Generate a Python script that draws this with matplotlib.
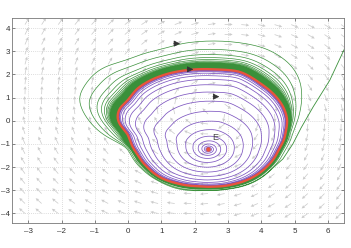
import numpy as np
import matplotlib
matplotlib.use("Agg")
import matplotlib.pyplot as plt

# ---------------- data ----------------
E = (2.41, -1.23)                 # equilibrium
E_label = "E"
E_label_pos = (2.62, -0.72)

# limit cycle (clockwise from top)
cycle_x = [2.06, 2.66, 3.36, 3.96, 4.36, 4.66, 4.78, 4.74, 4.51, 4.16, 3.66, 3.16,
           2.56, 2.07, 1.47, 0.97, 0.57, 0.27, 0.07, 0.00, -0.12, -0.28, -0.33,
           -0.27, -0.15, -0.03, 0.05, 0.27, 0.67, 1.26]
cycle_y = [2.22, 2.21, 2.13, 1.62, 1.17, 0.60, 0.05, -0.41, -1.27, -1.99, -2.50, -2.74,
           -2.84, -2.82, -2.70, -2.45, -1.99, -1.42, -0.91, -0.55, -0.38, -0.12, 0.20,
           0.50, 0.72, 0.82, 0.98, 1.39, 1.75, 2.06]

# outermost loop of the green trajectory
outer_x = [1.47, 2.37, 3.36, 4.16, 4.86, 5.16, 5.21, 5.14, 4.96, 4.70, 4.30, 3.70,
           3.00, 2.30, 1.47, 0.97, 0.46, 0.02, -0.13, -0.53, -1.00, -1.43, -1.51,
           -1.33, -1.03, -0.63, -0.13, 0.07, 0.46, 1.17]
outer_y = [3.30, 3.44, 3.37, 3.12, 2.47, 1.75, 1.03, 0.31, -0.41, -1.30, -2.10, -2.70,
           -2.95, -3.00, -2.93, -2.64, -2.14, -1.27, -0.98, -0.81, -0.30, 0.60, 1.03,
           1.46, 2.04, 2.40, 2.54, 2.68, 2.90, 3.12]

# entry part of the green trajectory (from the right border)
entry_x = [6.50, 6.06, 5.56, 5.20, 4.95, 4.65, 4.30]
entry_y = [3.10, 1.75, 0.60, -0.30, -1.00, -1.65, -2.10]

# direction arrows on the trajectories
arrow_x = [1.42, 1.82, 2.60]
arrow_y = [3.33, 2.22, 1.04]

# direction-field coefficients read from the grey arrows (linear fit)
field_a = [0.111, 1.0, -0.667]     # x' = a0*x + a1*y + a2
field_b = [-1.25, 0.156, 3.12]     # y' = b0*x + b1*y + b2

xticks = [-3, -2, -1, 0, 1, 2, 3, 4, 5, 6]
yticks = [-4, -3, -2, -1, 0, 1, 2, 3, 4]

GREEN = "#3a903a"
PURPLE = "#7d55c0"
RED = "#e8543c"
GREY = "#cccccc"

# ---------------- helpers ----------------
NG = 2880
TH = np.linspace(-np.pi, np.pi, NG, endpoint=False)

def polar_curve(xs, ys, sigma_deg):
    dx = np.asarray(xs) - E[0]
    dy = np.asarray(ys) - E[1]
    th = np.arctan2(dy, dx)
    r = np.hypot(dx, dy)
    o = np.argsort(th)
    rr = np.interp(TH, th[o], r[o], period=2 * np.pi)
    # circular gaussian smoothing of the polygon
    k = np.arange(-NG // 2, NG // 2)
    sig = sigma_deg / 360 * NG
    g = np.exp(-0.5 * (k / sig) ** 2)
    g /= g.sum()
    rr = np.real(np.fft.ifft(np.fft.fft(rr) * np.fft.fft(np.fft.ifftshift(g))))
    return rr

RC = polar_curve(cycle_x, cycle_y, 2.5)
RO = polar_curve(outer_x, outer_y, 3.5)

def wrap(th):
    return np.mod(th + np.pi, 2 * np.pi) - np.pi

def rc(th):
    return np.interp(wrap(th), TH, RC, period=2 * np.pi)

def ro(th):
    return np.interp(wrap(th), TH, RO, period=2 * np.pi)

def xy(th, r):
    return E[0] + r * np.cos(th), E[1] + r * np.sin(th)

# ---------------- figure ----------------
plt.rcParams["font.family"] = ["Liberation Sans", "DejaVu Sans"]
fig = plt.figure(figsize=(3.51, 2.48), dpi=100)
ax = fig.add_axes([0.0333, 0.102, 0.948, 0.824])
ax.set_xlim(-3.5, 6.5)
ax.set_ylim(-4.4, 4.42)

# direction field
gx = np.arange(-3.1, 6.45, 0.5)
gy = np.linspace(-4.0, 4.15, 20)
GX, GY = np.meshgrid(gx, gy)
U = field_a[0] * GX + field_a[1] * GY + field_a[2]
V = field_b[0] * GX + field_b[1] * GY + field_b[2]
sx, sy = 33.4, 23.2   # px per data unit
L = np.hypot(U * sx, V * sy)
Lpx = 8.0
U2 = U * Lpx / L
V2 = V * Lpx / L
ax.quiver(GX, GY, U2, V2, angles="xy", scale_units="xy", scale=1,
          color=GREY, width=0.0022, headwidth=4.5, headlength=4.5,
          headaxislength=4, zorder=1)

# green trajectory
th_start = np.arctan2(entry_y[-1] - E[1], entry_x[-1] - E[0])
phi = np.linspace(0, 60, 60 * 240)
th = th_start - 2 * np.pi * phi
w = 1.0 / (1.0 + np.clip(phi - 0.85, 0, None) / 2.0)
r = rc(th) + w * (ro(th) - rc(th))
gxs, gys = xy(th, r)
ax.plot(entry_x, entry_y, color=GREEN, lw=0.6, zorder=2)
ax.plot(gxs, gys, color=GREEN, lw=0.5, zorder=2)

# purple trajectory from E
phi_p = np.linspace(0, 24, 24 * 240)
u = -5.8 + 0.5 * phi_p
s = 1.0 / (1.0 + np.exp(-u))
thp = np.pi / 2 - 2 * np.pi * phi_p
b = s
shape = (1 - b) * 2.4 + b * rc(thp)
pxs, pys = xy(thp, s * shape)
ax.plot(pxs, pys, color=PURPLE, lw=0.55, zorder=3)

# limit cycle
tt = np.append(TH, TH[0])
lx, ly = xy(tt, rc(tt))
ax.plot(lx, ly, color=RED, lw=1.7, zorder=4, solid_capstyle="round")

# equilibrium
ax.plot([E[0]], [E[1]], "o", color=RED, ms=3.2, mec="none", zorder=5)
ax.text(E_label_pos[0], E_label_pos[1], E_label, fontsize=6.5, color="#444444",
        ha="center", va="center", zorder=6)

# arrows on trajectories
for xa, ya in zip(arrow_x, arrow_y):
    ax.annotate("", xy=(xa + 0.14, ya), xytext=(xa - 0.05, ya),
                arrowprops=dict(arrowstyle="-|>", color="#333333", lw=0.6,
                                mutation_scale=9, shrinkA=0, shrinkB=0),
                zorder=6)

# axes styling
ax.set_xticks(xticks)
ax.set_yticks(yticks)
ax.set_xticklabels([str(t).replace("-", "\u2013") for t in xticks])
ax.set_yticklabels([str(t).replace("-", "\u2013") for t in yticks])
ax.tick_params(direction="in", length=2.5, width=0.5, labelsize=5.8,
               colors="#555555", labelcolor="#333333", pad=1.2,
               top=True, right=True)
ax.tick_params(axis="x", pad=3.5)
ax.grid(True, linestyle=(0, (1, 2)), color="#bdbdbd", linewidth=0.5)
ax.set_axisbelow(True)
for sp in ax.spines.values():
    sp.set_color("#777777")
    sp.set_linewidth(0.6)

fig.savefig("out.png", dpi=100)
